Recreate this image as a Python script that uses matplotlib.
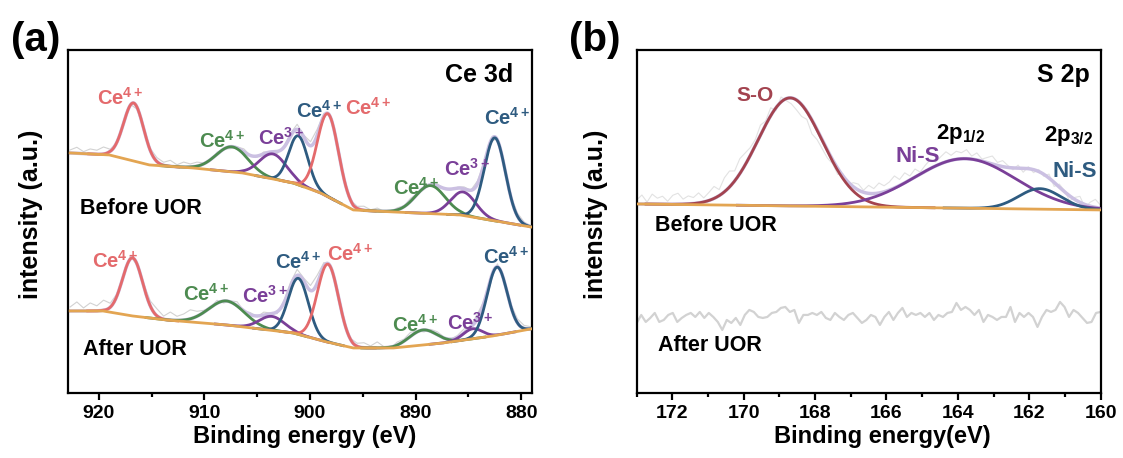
# XPS Ce 3d / S 2p fits, before and after UOR

import numpy as np
import matplotlib
matplotlib.use('Agg')
import matplotlib.pyplot as plt
from matplotlib.ticker import MultipleLocator

plt.rcParams['font.family'] = 'Liberation Sans'
plt.rcParams['font.weight'] = 'bold'
plt.rcParams['mathtext.fontset'] = 'custom'
plt.rcParams['mathtext.bf'] = 'Liberation Sans:bold'
plt.rcParams['mathtext.rm'] = 'Liberation Sans:bold'
plt.rcParams['mathtext.default'] = 'bf'

#------ Colours ------
RED = '#e46a6c'
GREEN = '#4d8b50'
PURPLE = '#7a3f98'
BLUE = '#2e5b80'
ORANGE = '#e3a552'
LAV = '#cbc0e2'
GRAY = '#d2d2d2'
SO = '#a3434f'
kind_col = {'r': RED, 'g': GREEN, 'p': PURPLE, 'b': BLUE}

#------ Ce 3d data ------
# Shirley background (eV, counts in plot units)
ce_bg_before_e = [922.7, 919.0, 915.2, 911.1, 906.4, 901.6, 899.0, 895.9, 892.1, 885.8, 879.1]
ce_bg_before_y = [240, 238, 228, 225, 220, 210, 200, 183, 181, 178, 166]
ce_bg_after_e = [922.7, 919.6, 916.8, 913.6, 907.9, 901.6, 898.4, 895.9, 892.1, 887.4, 882.7, 879.1]
ce_bg_after_y = [82, 82, 77, 73, 68, 60, 51, 45, 45, 50, 57, 64]

# fitted components: centre, height, sigma
ce_kind = ['r', 'g', 'p', 'b', 'r', 'g', 'p', 'b']
ce_before_c = [916.7, 907.4, 903.5, 901.1, 898.3, 888.6, 885.5, 882.5]
ce_before_h = [58, 25, 25, 49, 83, 28, 23.5, 83]
ce_before_s = [0.95, 1.5, 1.3, 0.9, 1.0, 1.4, 1.2, 1.0]
ce_after_c = [916.8, 907.9, 903.6, 901.1, 898.3, 889.3, 884.6, 882.3]
ce_after_h = [58, 24, 14, 56, 78, 15, 10, 68]
ce_after_s = [0.95, 1.7, 1.2, 0.95, 1.0, 1.3, 0.9, 0.95]

# raw-data scatter about the envelope
ce_raw_before = [3, 6, 2, 5, 4, 7, 2, 0, -1, 1, -2, 0, 2, 4, 3, 6, 2, 5, 3, 4, 1, -1, 2, 0, -2, 1, 3, 0, -1, 2,
                 0, -2, 1, 3, 5, 2, 4, 6, 3, 1, 2, -1, 0, 2, 4, 1, 3, 0, -1, 2, 1, 3, 0, -2, 1, 2, 0, -1, 1, 2,
                 0, 3, 1, -1, 2, 0, 1, 3, 2, 1]
ce_raw_after = [4, 9, 3, 8, 5, 10, 4, 2, 0, 3, -1, 2, 5, 7, 3, 8, 4, 6, 9, 5, 2, 0, 3, -2, 1, 4, 0, 2, -1, 3,
                1, -2, 2, 4, 6, 3, 5, 8, 4, 2, 3, 0, 1, 3, 5, 2, 6, 1, -1, 3, 2, 4, 1, -2, 2, 3, 1, 0, 2, 4,
                1, 5, 2, 0, 3, 1, 2, 4, 3, 2]

# peak labels: superscript, eV, y, kind
ce_lab_before = [('4+', 918.0, 295, 'r'), ('4+', 908.3, 252, 'g'), ('3+', 902.7, 255, 'p'),
                 ('4+', 899.1, 282, 'b'), ('4+', 894.5, 285, 'r'), ('4+', 889.9, 205, 'g'),
                 ('3+', 885.1, 224, 'p'), ('4+', 881.3, 275, 'b')]
ce_lab_after = [('4+', 918.4, 132, 'r'), ('4+', 909.8, 99, 'g'), ('3+', 904.2, 97, 'p'),
                ('4+', 901.1, 131, 'b'), ('4+', 896.2, 139, 'r'), ('4+', 890.0, 68, 'g'),
                ('3+', 884.8, 70, 'p'), ('4+', 881.4, 136, 'b')]

#------ S 2p data ------
s_bg_e = [173.0, 160.0]
s_bg_y = [189, 183]
s_kind = [SO, PURPLE, BLUE]
s_c = [168.7, 163.8, 161.7]
s_h = [108, 49.5, 20.5]
s_s = [0.9, 1.42, 0.6]
s_raw_before = [4, 9, 2, 10, 6, 8, 3, 9, 11, 5, 8, 6, 10, 4,
                8, 12, 6, 14, 16, 10, 15, 12, 8,
                6, 10, 4, 8, -3, 5, -2, -6, -10, -12, -8, -14, -10, -9,
                -8, -4, -6, 2, -3, 4, 6, 2, 8, 5, 10, 6,
                8, 12, 6, 10, 4, 8, 2, 6, 9, 4, 7, 10, 5, 8,
                6, 9, 3, 7, 2, 5, 8, 3, 6, 2, -2, 3, -4, 2,
                -3, 2, -2, 4, -4, 3, 1, -5, 2, 6, -3, 4, 8, 3]
s_raw_after = [70, 78, 71, 75, 80, 71, 73, 78, 80, 71, 75, 78, 80, 76, 81, 75, 80, 76, 71, 63,
               73, 70, 75, 68, 78, 83, 81, 76, 75, 76, 80, 81, 85, 86, 81, 83, 70, 78, 78, 80,
               78, 81, 75, 73, 80, 76, 73, 78, 80, 75, 70, 73,
               78, 76, 68, 76, 81, 73, 80, 85, 76, 80, 78, 80, 76, 80, 73, 78, 76, 80, 81, 90,
               83, 86, 83, 78, 83, 71, 78, 76, 73, 76, 76, 86, 71, 80, 76, 80, 76, 66, 76, 83,
               81, 83, 91, 86, 76, 83, 80, 75, 70, 71, 80, 81]


def gauss(x, c, h, s):
    return h * np.exp(-(x - c) ** 2 / (2 * s ** 2))


def draw_ce(ax, bg_e, bg_y, cs, hs, ss, raw, labels):
    x = np.linspace(923, 879, 900)
    bg = np.interp(x, bg_e[::-1], bg_y[::-1])
    env = bg.copy()
    for c, h, s in zip(cs, hs, ss):
        env += gauss(x, c, h, s)
    xr = np.linspace(bg_e[0], bg_e[-1], len(raw))
    envr = np.interp(xr, x[::-1], env[::-1])
    ax.plot(xr, envr + np.array(raw), color=GRAY, lw=0.8, zorder=1)
    ax.plot(x, env, color=LAV, lw=2.5, zorder=2)
    for c, h, s, k in zip(cs, hs, ss, ce_kind):
        m = np.abs(x - c) < 4.5 * s
        ax.plot(x[m], bg[m] + gauss(x[m], c, h, s), color=kind_col[k], lw=2, zorder=3)
    ax.plot(bg_e, bg_y, color=ORANGE, lw=2, zorder=4)
    for sup, e, y, k in labels:
        ax.text(e, y, 'Ce$^{%s}$' % sup, color=kind_col[k], fontsize=14.5,
                ha='center', va='center', zorder=5)


fig = plt.figure(figsize=(11.23, 4.58), dpi=100)
axa = fig.add_axes([0.0606, 0.142, 0.413, 0.749])
axb = fig.add_axes([0.567, 0.142, 0.413, 0.749])

# ------ (a) Ce 3d ------
draw_ce(axa, ce_bg_before_e, ce_bg_before_y, ce_before_c, ce_before_h, ce_before_s,
        ce_raw_before, ce_lab_before)
draw_ce(axa, ce_bg_after_e, ce_bg_after_y, ce_after_c, ce_after_h, ce_after_s,
        ce_raw_after, ce_lab_after)
axa.set_xlim(922.9, 879.0)
axa.xaxis.set_major_locator(MultipleLocator(10))
axa.xaxis.set_minor_locator(MultipleLocator(5))
axa.text(0.959, 0.927, 'Ce 3d', transform=axa.transAxes, fontsize=18, ha='right', va='center')
axa.text(0.026, 0.539, 'Before UOR', transform=axa.transAxes, fontsize=15.5, ha='left', va='center')
axa.text(0.032, 0.128, 'After UOR', transform=axa.transAxes, fontsize=15.5, ha='left', va='center')

# ------ (b) S 2p ------
x = np.linspace(173, 160, 600)
bg = np.interp(x, s_bg_e[::-1], s_bg_y[::-1])
env = bg.copy()
for c, h, s in zip(s_c, s_h, s_s):
    env += gauss(x, c, h, s)
xr = np.linspace(173, 160, len(s_raw_before))
envr = np.interp(xr, x[::-1], env[::-1])
axb.plot(xr, envr + np.array(s_raw_before), color='#e2e2e2', lw=0.8, zorder=1)
axb.plot(x, env, color=LAV, lw=2.5, zorder=2)
for c, h, s, col in zip(s_c, s_h, s_s, s_kind):
    m = np.abs(x - c) < 4.5 * s
    axb.plot(x[m], bg[m] + gauss(x[m], c, h, s), color=col, lw=2, zorder=3)
axb.plot(s_bg_e, s_bg_y, color=ORANGE, lw=2, zorder=4)
axb.plot(np.linspace(173, 160, len(s_raw_after)), s_raw_after, color=GRAY, lw=1.6, zorder=1)

axb.text(169.69, 297, 'S-O', color=SO, fontsize=15, ha='center', va='center')
axb.text(165.11, 236, 'Ni-S', color=PURPLE, fontsize=16, ha='center', va='center')
axb.text(163.92, 259, '2p$_{1/2}$', color='black', fontsize=16, ha='center', va='center')
axb.text(160.89, 257, '2p$_{3/2}$', color='black', fontsize=16, ha='center', va='center')
axb.text(160.72, 221, 'Ni-S', color=BLUE, fontsize=16, ha='center', va='center')
axb.set_xlim(173.0, 160.0)
axb.xaxis.set_major_locator(MultipleLocator(2))
axb.xaxis.set_minor_locator(MultipleLocator(1))
axb.text(0.976, 0.927, 'S 2p', transform=axb.transAxes, fontsize=18, ha='right', va='center')
axb.text(0.039, 0.487, 'Before UOR', transform=axb.transAxes, fontsize=15.5, ha='left', va='center')
axb.text(0.045, 0.137, 'After UOR', transform=axb.transAxes, fontsize=15.5, ha='left', va='center')

for ax in (axa, axb):
    ax.set_ylim(0, 343)
    ax.set_yticks([])
    for sp in ax.spines.values():
        sp.set_linewidth(1.6)
    ax.tick_params(axis='x', which='major', length=5, width=1.6, labelsize=14, pad=4)
    ax.tick_params(axis='x', which='minor', length=3, width=1.6)

fig.text(0.0276, 0.533, 'intensity (a.u.)', rotation=90, fontsize=18, ha='center', va='center')
fig.text(0.531, 0.533, 'intensity (a.u.)', rotation=90, fontsize=18, ha='center', va='center')
fig.text(0.2716, 0.046, 'Binding energy (eV)', fontsize=17, ha='center', va='center')
fig.text(0.786, 0.046, 'Binding energy(eV)', fontsize=17, ha='center', va='center')
fig.text(0.032, 0.912, '(a)', fontsize=29, ha='center', va='center')
fig.text(0.53, 0.912, '(b)', fontsize=29, ha='center', va='center')

fig.savefig('out.png', dpi=100)
